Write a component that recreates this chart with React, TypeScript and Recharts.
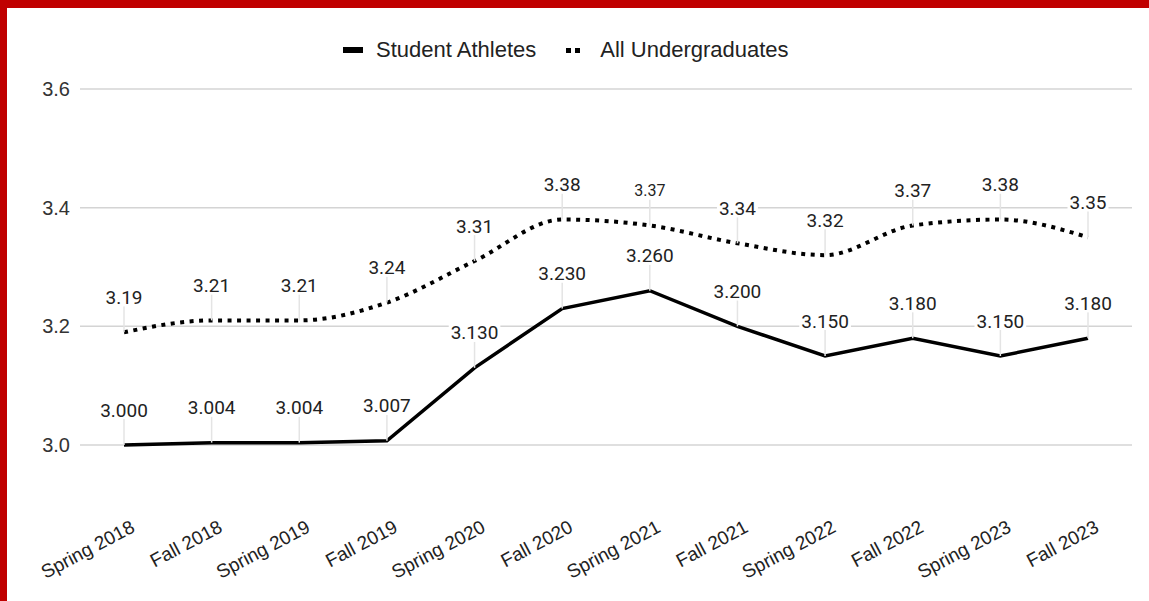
import React from 'react';
import { LineChart, Line, XAxis, YAxis, CartesianGrid } from 'recharts';

// GPA by term
const terms = [
  'Spring 2018', 'Fall 2018', 'Spring 2019', 'Fall 2019', 'Spring 2020', 'Fall 2020',
  'Spring 2021', 'Fall 2021', 'Spring 2022', 'Fall 2022', 'Spring 2023', 'Fall 2023',
];
const studentAthletes = [3.0, 3.004, 3.004, 3.007, 3.13, 3.23, 3.26, 3.2, 3.15, 3.18, 3.15, 3.18];
const allUndergraduates = [3.19, 3.21, 3.21, 3.24, 3.31, 3.38, 3.37, 3.34, 3.32, 3.37, 3.38, 3.35];
const yTicks = [3.0, 3.2, 3.4, 3.6];

const data = terms.map((term, i) => ({
  term,
  athletes: studentAthletes[i],
  undergrads: allUndergraduates[i],
}));

const LABEL_FONT = 'Roboto, "Noto Sans", sans-serif';
const AXIS_FONT = '"Liberation Sans", Arial, sans-serif';

const PointLabel = (props: any) => {
  const { x, y, value, index, digits, smallIndex } = props;
  if (value == null) return null;
  const text = Number(value).toFixed(digits);
  const fontSize = index === smallIndex ? 16 : 19;
  const nDigits = text.replace('.', '').length;
  const w = (nDigits * 0.562 + 0.26) * fontSize + 4;
  const cy = y - 35;
  return (
    <g>
      <line x1={x} x2={x} y1={cy + 9} y2={y} stroke="#e4e4e4" strokeWidth={1.5} />
      <rect x={x - w / 2} y={cy - 9} width={w} height={18} fill="#fff" />
      <text
        x={x}
        y={cy}
        textAnchor="middle"
        dominantBaseline="central"
        fontFamily={LABEL_FONT}
        fontSize={fontSize}
        fill="#222"
      >
        {text}
      </text>
    </g>
  );
};

const TermTick = (props: any) => {
  const { x, y, payload } = props;
  return (
    <g transform={`translate(${x + 12},${y + 86})`}>
      <text textAnchor="end" transform="rotate(-28)" fontFamily={AXIS_FONT} fontSize={19} fill="#222">
        {payload.value}
      </text>
    </g>
  );
};

const Legend = () => (
  <div
    style={{
      position: 'absolute',
      top: 36,
      left: 343,
      display: 'flex',
      alignItems: 'center',
      fontFamily: AXIS_FONT,
      fontSize: 22,
      color: '#222',
      lineHeight: '28px',
    }}
  >
    <span style={{ display: 'inline-block', width: 20, height: 6, background: '#000', marginRight: 13 }} />
    <span>Student Athletes</span>
    <span style={{ display: 'inline-flex', marginLeft: 30, marginRight: 20 }}>
      <span style={{ width: 5, height: 5, background: '#000', marginRight: 4 }} />
      <span style={{ width: 5, height: 5, background: '#000' }} />
    </span>
    <span>All Undergraduates</span>
  </div>
);

const GpaChart = () => {
  return (
    <div style={{ position: 'absolute', left: 0, top: 0, width: 1149, height: 601, background: '#fff', overflow: 'hidden' }}>
      <LineChart width={1149} height={601} data={data} margin={{ top: 89, right: 17, bottom: 0, left: 0 }}>
        <CartesianGrid vertical={false} stroke="#d4d4d4" strokeWidth={1.5} />
        <XAxis
          dataKey="term"
          axisLine={false}
          tickLine={false}
          tickSize={0}
          tickMargin={0}
          height={156}
          interval={0}
          padding={{ left: 44, right: 44 }}
          tick={<TermTick />}
        />
        <YAxis
          domain={[3.0, 3.6]}
          ticks={yTicks}
          tickFormatter={(v: number) => v.toFixed(1)}
          axisLine={false}
          tickLine={false}
          width={80}
          tickMargin={4}
          tick={{ fontFamily: AXIS_FONT, fontSize: 20, fill: '#333' }}
        />
        <Line
          type="monotone"
          dataKey="undergrads"
          stroke="#000"
          strokeWidth={4}
          strokeDasharray="4 5.5"
          dot={false}
          activeDot={false}
          isAnimationActive={false}
          label={(p: any) => <PointLabel {...p} digits={2} smallIndex={6} />}
        />
        <Line
          type="linear"
          dataKey="athletes"
          stroke="#000"
          strokeWidth={3.5}
          dot={false}
          activeDot={false}
          isAnimationActive={false}
          label={(p: any) => <PointLabel {...p} digits={3} smallIndex={-1} />}
        />
      </LineChart>
      <Legend />
      <div style={{ position: 'absolute', left: 0, top: 0, width: 1149, height: 8, background: '#c00000' }} />
      <div style={{ position: 'absolute', left: 0, top: 0, width: 7, height: 601, background: '#c00000' }} />
    </div>
  );
};

export default GpaChart;
